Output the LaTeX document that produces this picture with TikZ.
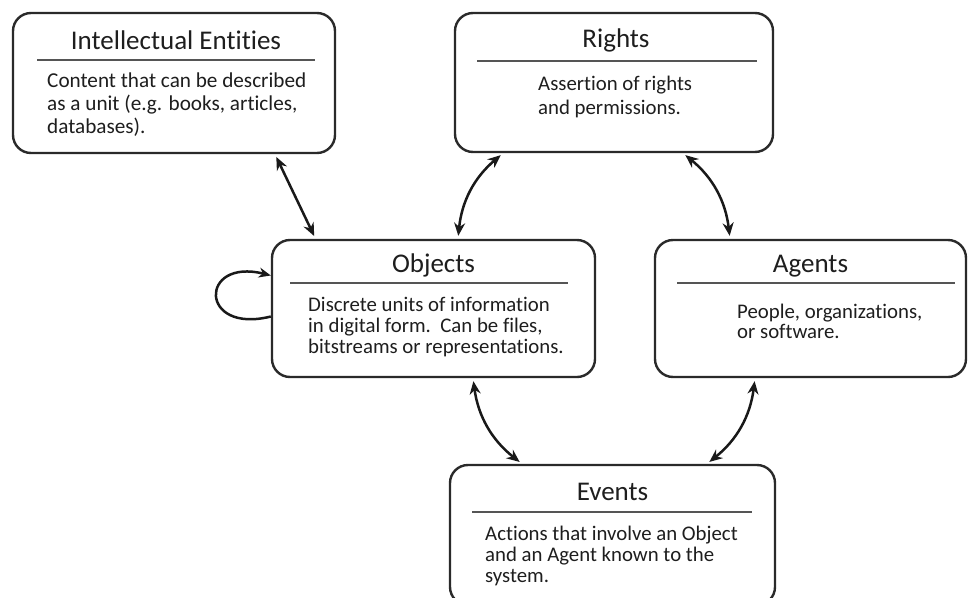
\documentclass[tikz,border=0pt]{standalone}
\usepackage{fontspec}
\setmainfont[Ligatures=NoCommon]{Carlito}
\usetikzlibrary{arrows.meta}
\definecolor{boxline}{HTML}{2A2A2A}
\definecolor{sepline}{HTML}{555555}
\definecolor{txt}{HTML}{1E1E1E}
\tikzset{
  box/.style={draw=boxline, line width=2.4pt, rounded corners=18pt, fill=white, inner sep=0pt},
  title/.style={font=\fontsize{27}{30}\selectfont, text=txt, inner sep=0pt, anchor=base},
  body/.style={font=\fontsize{20.8}{21}\selectfont, text=txt, inner sep=0pt, align=left, anchor=west},
  sep/.style={draw=sepline, line width=1.4pt},
  link/.style={line width=2.5pt, draw=black!90, {Stealth[length=13pt,width=11pt]}-{Stealth[length=13pt,width=11pt]}, shorten <=3pt, shorten >=3pt},
  loop/.style={line width=2.5pt, draw=black!90, -{Stealth[length=12pt,width=10pt]}}
}
\begin{document}
\begin{tikzpicture}[x=1pt,y=-1pt]
\useasboundingbox (0,0) rectangle (968,597);
% boxes
\node[box, minimum width=322pt, minimum height=140pt] (ie) at (174,83) {};
\node[box, minimum width=318pt, minimum height=139pt] (ri) at (614,82.5) {};
\node[box, minimum width=323pt, minimum height=137pt] (ob) at (433.5,308.5) {};
\node[box, minimum width=311pt, minimum height=137pt] (ag) at (810.5,308.5) {};
\node[box, minimum width=325pt, minimum height=140pt] (ev) at (612.5,535) {};
% titles
\node[title] (iet) at (176,49) {Intellectual Entities};
\node[title] (rit) at (616,47) {Rights};
\node[title] (obt) at (433.5,272) {Objects};
\node[title] (agt) at (810.5,272) {Agents};
\node[title] (evt) at (612.5,500) {Events};
% separators
\draw[sep] (37,60) -- (315,60);
\draw[sep] (477,61) -- (757,61);
\draw[sep] (290,283) -- (568,283);
\draw[sep] (677,283) -- (955,283);
\draw[sep] (472,512) -- (752,512);
% bodies
\node[body, font=\fontsize{21.2}{23}\selectfont] (ieb) at (47,105) {Content that can be described\\as a unit (e.g. books, articles,\\databases).};
\node[body, font=\fontsize{20.8}{24}\selectfont] (rib) at (538,97) {Assertion of rights\\and permissions.};
\node[body] (obb) at (308,327) {Discrete units of information\\in digital form.\ \ Can be files,\\bitstreams or representations.};
\node[body, font=\fontsize{20.8}{20}\selectfont] (agb) at (737,321) {People, organizations,\\or software.};
\node[body] (evb) at (485,556) {Actions that involve an Object\\and an Agent known to the\\system.};
% connectors
\draw[link] ([xshift=101pt]ie.south) -- ([xshift=-118pt]ob.north);
\draw[link] ([xshift=24.5pt]ob.north) to[bend left=22] ([xshift=-111pt]ri.south);
\draw[link] ([xshift=-80.5pt]ag.north) to[bend right=22] ([xshift=69pt]ri.south);
\draw[link] ([xshift=39.5pt]ob.south) to[bend right=22] ([xshift=-90.5pt]ev.north);
\draw[link] ([xshift=-55.5pt]ag.south) to[bend left=22] ([xshift=94.5pt]ev.north);
\draw[loop] ([yshift=-8pt]ob.west) .. controls +(-72pt,-18pt) and +(-72pt,18pt) .. ([yshift=33pt]ob.west);
\end{tikzpicture}
\end{document}
